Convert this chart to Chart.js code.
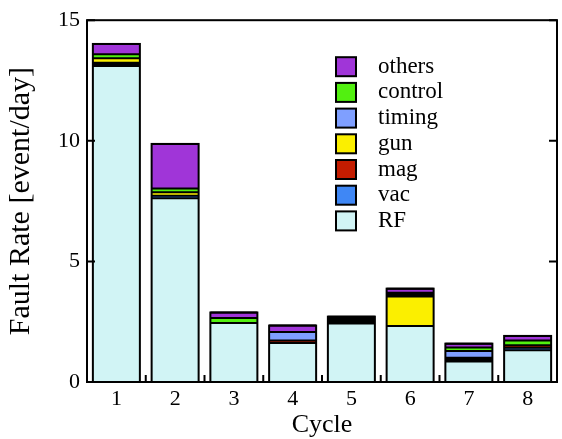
<!DOCTYPE html>
<html>
<head>
<meta charset="utf-8">
<script src="https://cdn.jsdelivr.net/npm/chart.js@4"></script>
<style>
html,body{margin:0;padding:0;background:#fff;}
#wrap{width:562px;height:439px;}
</style>
</head>
<body>
<div id="wrap"><canvas id="c" width="562" height="439"></canvas></div>
<script>
const categories = ['1','2','3','4','5','6','7','8'];
const yTicks = [0, 5, 10, 15];
const RF      = [13.1, 7.62, 2.45, 1.62, 2.43, 2.32, 0.85, 1.32];
const vac     = [0.07, 0.1, null, null, 0.07, null, 0.08, 0.1];
const mag     = [0.07, null, null, 0.1, 0.07, null, 0.08, 0.1];
const gun     = [0.18, 0.15, null, null, null, 1.22, null, null];
const timing  = [null, null, null, 0.35, 0.07, 0.08, 0.28, null];
const control = [0.165, 0.15, 0.2, null, 0.07, 0.08, 0.14, 0.2];
const others  = [0.43, 1.85, 0.23, 0.27, null, 0.17, 0.16, 0.19];

const seriesNames = ['RF','vac','mag','gun','timing','control','others'];
const seriesData = [RF, vac, mag, gun, timing, control, others];
const seriesColors = ['#d1f4f5','#3f87f5','#c41c00','#fbef00','#7f9fff','#52f010','#a035d8'];

const SERIF = '"Liberation Serif", "DejaVu Serif", serif';

const framePlugin = {
  id: 'frame',
  afterDatasetsDraw(chart) {
    const ctx = chart.ctx, a = chart.chartArea;
    const x = chart.scales.x, y = chart.scales.y;
    ctx.save();
    ctx.strokeStyle = '#000';
    ctx.lineWidth = 2;
    // segment separators and outline of each stacked bar, from the library's bar elements
    for (let i = 0; i < categories.length; i++) {
      let top = Infinity, bottom = -Infinity, cx = 0, w = 0;
      const edges = [];
      chart.data.datasets.forEach((ds, k) => {
        const el = chart.getDatasetMeta(k).data[i];
        if (!el || ds.data[i] == null) return;
        top = Math.min(top, el.y, el.base);
        bottom = Math.max(bottom, el.y, el.base);
        cx = el.x; w = el.width;
        edges.push(el.y);
      });
      if (!isFinite(top)) continue;
      ctx.beginPath();
      edges.forEach(ey => { ctx.moveTo(cx - w / 2, ey); ctx.lineTo(cx + w / 2, ey); });
      ctx.stroke();
      ctx.strokeRect(cx - w / 2, top, w, bottom - top);
    }
    ctx.strokeRect(a.left, a.top, a.right - a.left, a.bottom - a.top);
    ctx.beginPath();
    yTicks.forEach(v => {
      const py = y.getPixelForValue(v);
      ctx.moveTo(a.left, py); ctx.lineTo(a.left + 8, py);
      ctx.moveTo(a.right, py); ctx.lineTo(a.right - 8, py);
    });
    for (let i = 0; i < categories.length - 1; i++) {
      const px = (x.getPixelForValue(i) + x.getPixelForValue(i + 1)) / 2;
      ctx.moveTo(px, a.bottom); ctx.lineTo(px, a.bottom - 7);
    }
    ctx.stroke();
    // legend
    ctx.font = '23px ' + SERIF;
    ctx.textBaseline = 'middle';
    ctx.textAlign = 'left';
    const order = [6,5,4,3,2,1,0];
    order.forEach((k, i) => {
      const cy = 66.7 + i * 25.7;
      ctx.fillStyle = seriesColors[k];
      ctx.fillRect(336, cy - 9.5, 20, 19);
      ctx.lineWidth = 2;
      ctx.strokeStyle = '#000';
      ctx.strokeRect(336, cy - 9.5, 20, 19);
      ctx.fillStyle = '#000';
      ctx.fillText(seriesNames[k], 378, cy);
    });
    ctx.restore();
  }
};

new Chart(document.getElementById('c'), {
  type: 'bar',
  data: {
    labels: categories,
    datasets: seriesNames.map((n, k) => ({
      label: n,
      data: seriesData[k],
      backgroundColor: seriesColors[k],
      borderWidth: 0,
      barPercentage: 0.8,
      categoryPercentage: 1.0
    }))
  },
  options: {
    responsive: false,
    animation: false,
    devicePixelRatio: 1,
    layout: { padding: { top: 18, right: 5, left: 0, bottom: 0 } },
    plugins: { legend: { display: false }, tooltip: { enabled: false } },
    scales: {
      x: {
        stacked: true,
        grid: { display: false, drawTicks: false },
        border: { display: false },
        ticks: { color: '#000', font: { family: SERIF, size: 22 }, padding: 4 },
        title: { display: true, text: 'Cycle', color: '#000', font: { family: SERIF, size: 26 }, padding: { top: 0, bottom: -2 } },
        afterFit(s) { s.height = 57; }
      },
      y: {
        stacked: true,
        min: 0, max: 15,
        afterBuildTicks(s) { s.ticks = yTicks.map(v => ({ value: v })); },
        grid: { display: false, drawTicks: false },
        border: { display: false },
        ticks: { color: '#000', font: { family: SERIF, size: 22 }, padding: 7 },
        title: { display: true, text: 'Fault Rate [event/day]', color: '#000', font: { family: SERIF, size: 30 }, padding: { top: 3, bottom: 0 } },
        afterFit(s) { s.width = 87; }
      }
    }
  },
  plugins: [framePlugin]
});
</script>
</body>
</html>
